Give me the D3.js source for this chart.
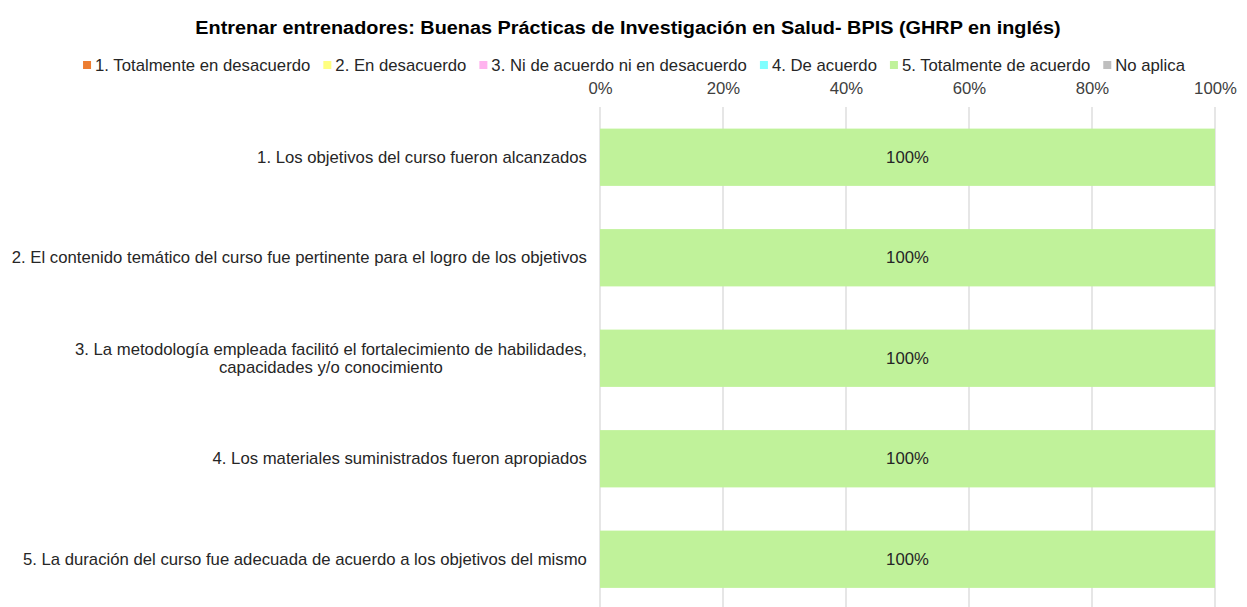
<!DOCTYPE html>
<html><head><meta charset="utf-8">
<script src="https://cdn.jsdelivr.net/npm/d3@7"></script>
<style>body{margin:0;background:#fff;}svg{display:block;font-family:"Liberation Sans",Arial,sans-serif;}</style>
</head><body>
<svg id="c" width="1247" height="607"></svg>
<script>
const title = "Entrenar entrenadores: Buenas Prácticas de Investigación en Salud- BPIS (GHRP en inglés)";
const questions = [
  ["1. Los objetivos del curso fueron alcanzados"],
  ["2. El contenido temático del curso fue pertinente para el logro de los objetivos"],
  ["3. La metodología empleada facilitó el fortalecimiento de habilidades,", "capacidades y/o conocimiento"],
  ["4. Los materiales suministrados fueron apropiados"],
  ["5. La duración del curso fue adecuada de acuerdo a los objetivos del mismo"]
];
const seriesNames = ["1. Totalmente en desacuerdo","2. En desacuerdo","3. Ni de acuerdo ni en desacuerdo","4. De acuerdo","5. Totalmente de acuerdo","No aplica"];
const seriesColors = ["#ED7D31","#FFFF80","#FFB3EE","#80FFFF","#C0F29A","#BFBFBF"];
const s1 = [0,0,0,0,0];
const s2 = [0,0,0,0,0];
const s3 = [0,0,0,0,0];
const s4 = [0,0,0,0,0];
const s5 = [1,1,1,1,1];
const sNA = [0,0,0,0,0];
const xTicks = [0,0.2,0.4,0.6,0.8,1];

(function(){
const svg = d3.select("#c");
const pL = 600, pR = 1215, pT = 107, pB = 609.5;
const FS = 16, SX = 1.045;
const x = d3.scaleLinear().domain([0,1]).range([pL,pR]);
const y = d3.scaleBand().domain(d3.range(questions.length)).range([pT,pB]).paddingInner(0.43).paddingOuter(0.215);

// gridlines
svg.append("g").selectAll("line").data(xTicks).join("line")
  .attr("x1",d=>x(d)).attr("x2",d=>x(d)).attr("y1",pT).attr("y2",pB)
  .attr("stroke","#d9d9d9").attr("stroke-width",1.3);

// axis labels at top
const ax = svg.append("g").attr("transform",`translate(0,${pT})`)
  .call(d3.axisTop(x).tickValues(xTicks).tickFormat(d3.format(".0%")).tickSize(0).tickPadding(13));
ax.select(".domain").remove();
ax.selectAll("text").attr("font-size",FS).attr("fill","#404040")
  .attr("font-family","Liberation Sans, Arial, sans-serif").attr("transform",`scale(${SX},1)`);

// stacked bars
const all = [s1,s2,s3,s4,s5,sNA];
const rows = questions.map((q,i)=>{const o={i}; all.forEach((s,k)=>o[k]=s[i]); return o;});
const stack = d3.stack().keys(d3.range(all.length))(rows);
const g = svg.append("g");
stack.forEach((layer,k)=>{
  const nz = layer.filter(d=>d[1]-d[0]>0);
  g.selectAll(null).data(nz).join("rect")
    .attr("x",d=>x(d[0])).attr("width",d=>x(d[1])-x(d[0]))
    .attr("y",d=>y(d.data.i)).attr("height",y.bandwidth())
    .attr("fill",seriesColors[k]);
  g.selectAll(null).data(nz).join("text")
    .attr("transform",d=>`translate(${(x(d[0])+x(d[1]))/2},${y(d.data.i)+y.bandwidth()/2}) scale(${SX},1)`)
    .attr("dy","0.35em").attr("text-anchor","middle").attr("font-size",FS).attr("fill","#262626")
    .text(d=>d3.format(".0%")(d[1]-d[0]));
});

// category labels
questions.forEach((lines,i)=>{
  const cy = y(i)+y.bandwidth()/2;
  const tmp = svg.append("text").attr("font-size",FS).text(lines[0]);
  const w = tmp.node().getComputedTextLength()*SX; tmp.remove();
  const cx = pL-13 - w/2;
  const lh = 18;
  const t = svg.append("text").attr("font-size",FS).attr("fill","#262626")
    .attr("transform",`translate(${cx},${cy}) scale(${SX},1)`);
  lines.forEach((l,j)=>{
    t.append("tspan").attr("x",0).attr("text-anchor","middle")
      .attr("y",(j-(lines.length-1)/2)*lh).attr("dy","0.35em").text(l);
  });
});

// title
svg.append("text").attr("transform",`translate(628,27) scale(${SX},1)`).attr("dy","0.35em").attr("text-anchor","middle")
  .attr("font-size",19).attr("font-weight","bold").attr("fill","#000").text(title);

// legend
const lg = svg.append("g");
let xs = 0;
seriesNames.forEach((n,k)=>{
  const it = lg.append("g");
  it.append("rect").attr("x",0).attr("y",-4).attr("width",8).attr("height",8).attr("fill",seriesColors[k]);
  const tx = it.append("text").attr("transform",`translate(12,0) scale(${SX},1)`).attr("dy","0.35em")
    .attr("font-size",FS).attr("fill","#262626").text(n);
  const w = 12 + tx.node().getComputedTextLength()*SX;
  it.attr("transform",`translate(${xs},65)`);
  xs += w + 13;
});
const total = xs - 13;
lg.attr("transform",`translate(${634 - total/2},0)`);
})();
</script>
</body></html>
